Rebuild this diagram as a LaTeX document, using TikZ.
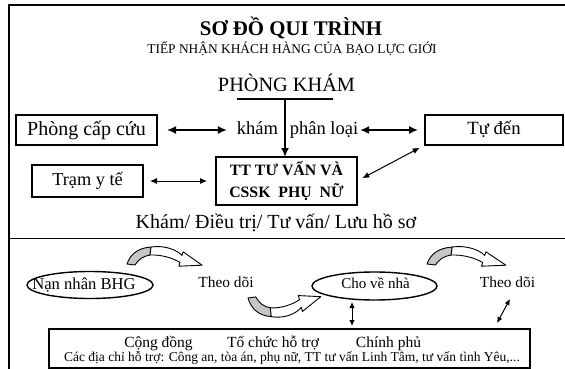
\documentclass[tikz,border=0pt]{standalone}
\usepackage{fontspec}
\setmainfont{Liberation Serif}
\usetikzlibrary{arrows.meta,shapes.geometric}
\tikzset{
  ribbonarrow/.pic={
    \filldraw[fill=gray!45, line width=0.9pt, line join=round]
      (0,0) .. controls (3,9) and (10,16) .. (24,17) -- (23,9)
      .. controls (16,8) and (11,4) .. (8,-1) -- cycle;
    \filldraw[fill=white, line width=0.9pt, line join=round]
      (24,17) .. controls (38,19) and (50,14) .. (55,8.5) -- (56.1,12.2)
      -- (75.1,-1.2) -- (51.9,-2.2) -- (53,1.5)
      .. controls (46,6) and (34,9.5) .. (23,9) -- cycle;
  }
}
\begin{document}
\begin{tikzpicture}[x=1pt,y=-1pt,
  every node/.style={inner sep=0pt, outer sep=0pt},
  fs/.style={font=\fontsize{#1}{#1}\selectfont},
  th/.style 2 args={text height=#1, text depth=#2},
  bigdbl/.style={{Latex[length=9pt,width=8pt]}-{Latex[length=9pt,width=8pt]}, line width=1.6pt},
  middbl/.style={{Latex[length=7pt,width=6pt]}-{Latex[length=7pt,width=6pt]}, line width=1pt},
  smalldbl/.style={{Latex[length=6pt,width=5.5pt]}-{Latex[length=6pt,width=5.5pt]}, line width=1pt},
  frame/.style={line width=1.9pt}
]
\useasboundingbox (0,0) rectangle (565,369);
% outer frame
\draw[frame] (565,5) -- (9,5) -- (9,369);
\draw[frame] (9,238.5) -- (565,238.5);

% titles
\node[fs=20.8, anchor=base] (title) at (291,35.5) {\textbf{SƠ ĐỒ QUI TRÌNH}};
\node[fs=13.4, anchor=base] (sub) at (292,54) {TIẾP NHẬN KHÁCH HÀNG CỦA BẠO LỰC GIỚI};
\node[fs=20.3, anchor=base] (pk) at (286.5,92) {PHÒNG KHÁM};
\coordinate (pkL) at (237,99);
\coordinate (pkR) at (333,99);
\coordinate (pkM) at (285,99);

% boxes
\node[draw, line width=1.9pt, minimum width=141pt, minimum height=30pt, fs=20, th={14pt}{4pt}] (pcc) at (86.5,130) {Phòng cấp cứu};
\node[fs=18.5, th={12.95pt}{3.7pt}] (kham) at (257.5,130) {khám};
\node[fs=18.5, th={12.95pt}{3.7pt}] (pl) at (324,130) {phân loại};
\node[draw, line width=1.7pt, minimum width=138pt, minimum height=30pt, fs=18.7, th={13.1pt}{3.74pt}] (tdb) at (494,130) {Tự đến};
\node[draw, line width=1.2pt, minimum width=111pt, minimum height=32pt, fs=18.3, th={12.8pt}{3.66pt}] (tram) at (87.5,181) {Trạm y tế};
\node[draw, line width=2.3pt, minimum width=141pt, minimum height=48pt, align=center,
      font=\fontsize{15.8}{22}\selectfont\bfseries] (tt) at (286.5,181) {TT TƯ VẤN VÀ\\CSSK\ \ PHỤ\ \ NỮ};
\node[fs=20, th={14pt}{4pt}] (kdt) at (276,223) {Khám/ Điều trị/ Tư vấn/ Lưu hồ sơ};

% top connectors
\draw[line width=1.6pt] (pkL) -- (pkR);
\draw[line width=1.6pt, -{Latex[length=9pt,width=8pt]}] (pkM) -- (pkM |- tt.north);
\draw[bigdbl, shorten <=10pt, shorten >=10pt] (pcc.east) -- (pcc.east -| kham.west);
\draw[bigdbl, shorten <=2pt, shorten >=7pt] (pl.east |- tdb.west) -- (tdb.west);
\draw[middbl, shorten <=7pt, shorten >=9pt] (tram.east) -- (tram.east -| tt.west);
\draw[middbl, shorten <=6pt, shorten >=6pt] (tt.east) -- (tdb.south west);

% bottom section
\node[draw, ellipse, line width=1.4pt, minimum width=126pt, minimum height=27pt] (nn) at (90,285) {};
\node[fs=16.6, th={11.6pt}{3.3pt}] (nnt) at (84,285) {Nạn nhân BHG};
\node[fs=15.4, th={10.8pt}{3.1pt}] (td1) at (226,284) {Theo dõi};
\node[draw, ellipse, line width=1.4pt, minimum width=125pt, minimum height=28pt] (cvn) at (374.5,286) {};
\node[fs=15, th={10.5pt}{3pt}] (cvnt) at (375.5,285) {Cho về nhà};
\node[fs=15.4, th={10.8pt}{3.1pt}] (td2) at (507.5,284) {Theo dõi};

\pic[yscale=-1] at (127,264) {ribbonarrow};
\pic[yscale=1.1, xscale=0.97] at (248,298) {ribbonarrow};
\pic[yscale=-1, xscale=1.05] at (427,264) {ribbonarrow};

\node[draw, line width=1.7pt, minimum width=481pt, minimum height=39pt] (bb) at (289.5,348.5) {};
\node[fs=15.5, th={10.85pt}{3.1pt}] (cd) at (158.5,344) {Cộng đồng};
\node[fs=15.5, th={10.85pt}{3.1pt}] (tc) at (273,344) {Tổ chức hỗ trợ};
\node[fs=15.5, th={10.85pt}{3.1pt}] (cp) at (388.5,344) {Chính phủ};
\node[fs=13.5, th={9.45pt}{2.7pt}] (cac) at (292,358.6) {Các địa chỉ hỗ trợ: Công an, tòa án, phụ nữ, TT tư vấn Linh Tâm, tư vấn tình Yêu,...};

\coordinate (va1) at (352,302);
\coordinate (va2) at (352,326);
\draw[smalldbl] (va1) -- (va2);
\coordinate (da1) at (497,323);
\coordinate (da2) at (510,299);
\draw[smalldbl] (da1) -- (da2);
\end{tikzpicture}
\end{document}
